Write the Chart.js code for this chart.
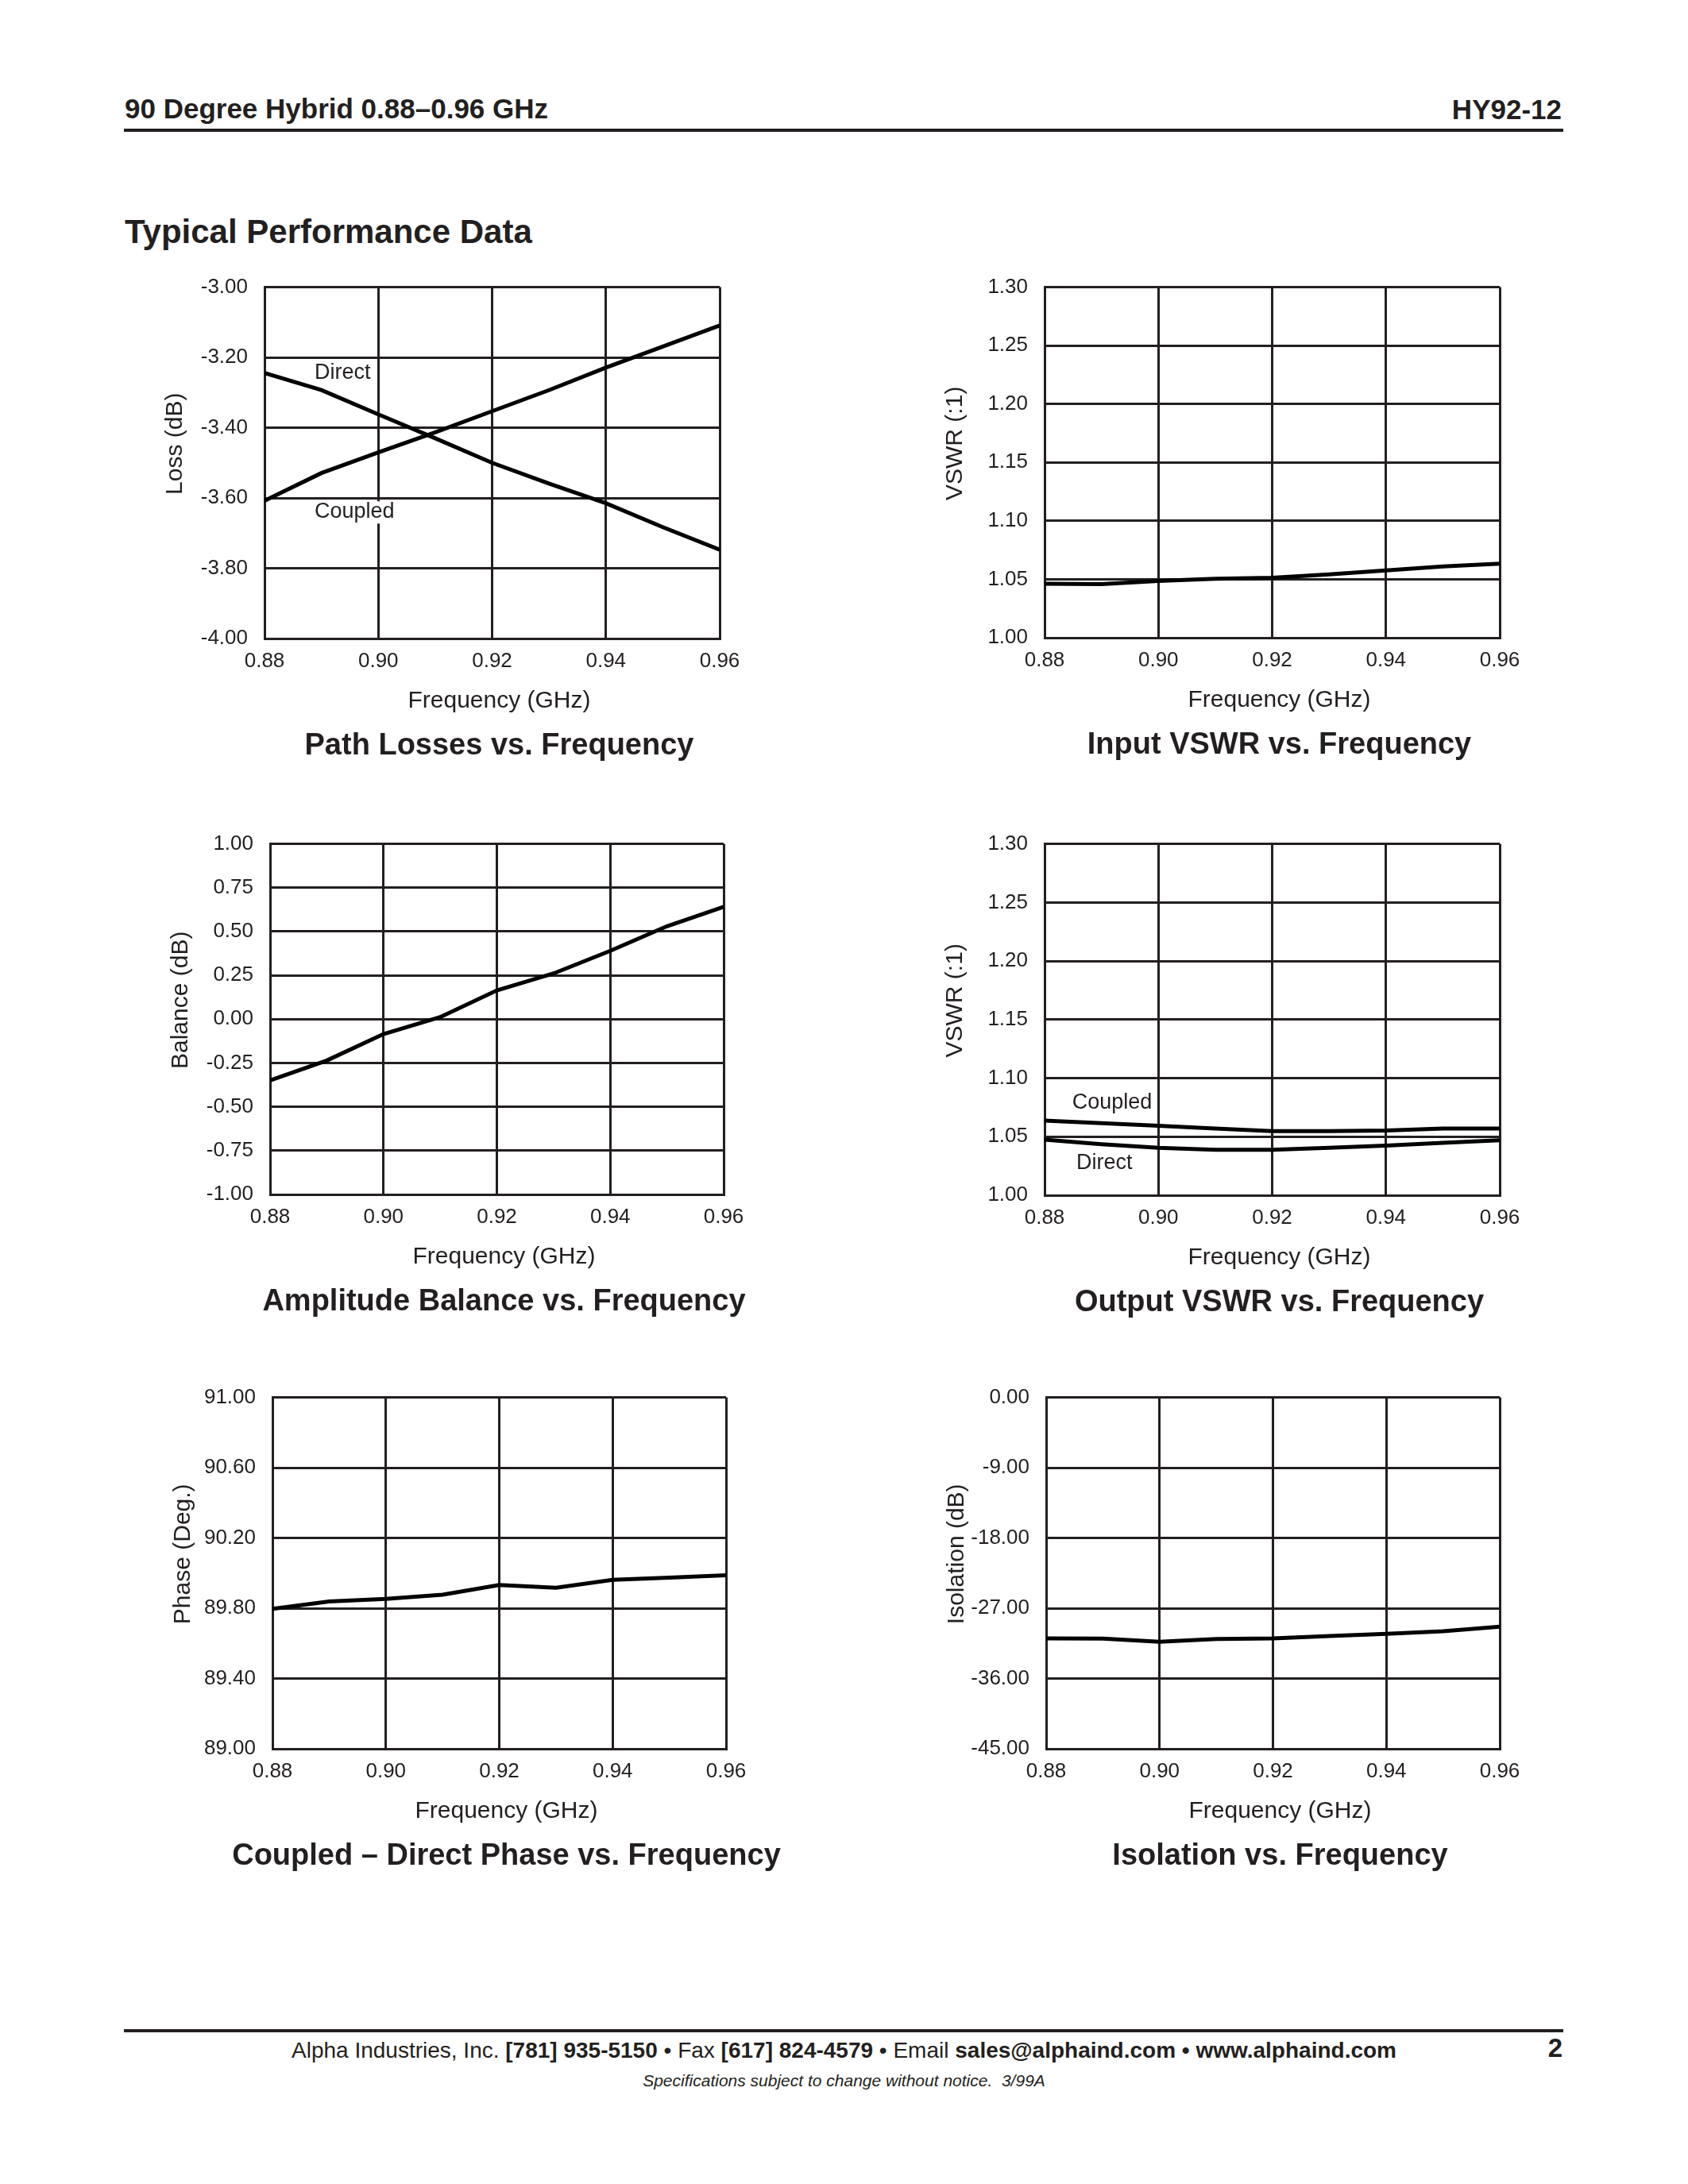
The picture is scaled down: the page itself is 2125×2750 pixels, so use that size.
<!DOCTYPE html>
<html>
<head>
<meta charset="utf-8">
<title>HY92-12 Typical Performance Data</title>
<script src="https://cdn.jsdelivr.net/npm/chart.js@4.4.1/dist/chart.umd.min.js"></script>
<style>
  html, body { margin: 0; padding: 0; background: #fff; }
  #page { position: relative; width: 2125px; height: 2750px; background: #fff; overflow: hidden;
          font-family: "Liberation Sans", Arial, Helvetica, sans-serif; color: #231f20; }
  .txt { position: absolute; white-space: nowrap; line-height: 1; }
  .rule { position: absolute; left: 156px; width: 1812px; height: 4px; background: #231f20; }
  .box { position: absolute; }
  b { font-weight: bold; }
</style>
</head>
<body>
<div id="page">
  <div class="txt" style="left:157px; top:119px; font-size:35px; font-weight:bold;">90 Degree Hybrid 0.88–0.96 GHz</div>
  <div class="txt" style="right:159px; top:120px; font-size:35px; font-weight:bold;">HY92-12</div>
  <div class="rule" style="top:162px;"></div>
  <div class="txt" style="left:157px; top:271px; font-size:42px; font-weight:bold;">Typical Performance Data</div>

  <div class="box" id="b1"><canvas id="c1"></canvas></div>
  <div class="box" id="b2"><canvas id="c2"></canvas></div>
  <div class="box" id="b3"><canvas id="c3"></canvas></div>
  <div class="box" id="b4"><canvas id="c4"></canvas></div>
  <div class="box" id="b5"><canvas id="c5"></canvas></div>
  <div class="box" id="b6"><canvas id="c6"></canvas></div>

  <div class="rule" style="top:2555px;"></div>
  <div class="txt" style="left:0; width:2125px; text-align:center; top:2568px; font-size:28px;">Alpha Industries, Inc. <b>[781] 935-5150</b> • Fax <b>[617] 824-4579</b> • Email <b>sales@alphaind.com • www.alphaind.com</b></div>
  <div class="txt" style="right:158px; top:2562px; font-size:33px; font-weight:bold;">2</div>
  <div class="txt" style="left:0; width:2125px; text-align:center; top:2609px; font-size:21px; font-style:italic;">Specifications subject to change without notice.&nbsp; 3/99A</div>
</div>

<script>
// frequency points (GHz) and axis ticks
const freqGHz = [0.88, 0.89, 0.90, 0.91, 0.92, 0.93, 0.94, 0.95, 0.96];
const freqTicks = [0.88, 0.90, 0.92, 0.94, 0.96];

// path losses (dB)
const lossDirect  = [-3.244, -3.293, -3.362, -3.430, -3.500, -3.559, -3.615, -3.683, -3.747];
const lossCoupled = [-3.608, -3.529, -3.470, -3.413, -3.353, -3.293, -3.229, -3.169, -3.109];
const lossTicks = [-4.00, -3.80, -3.60, -3.40, -3.20, -3.00];

// input VSWR
const inputVswr = [1.0463, 1.0459, 1.0486, 1.0504, 1.0513, 1.0542, 1.0576, 1.0610, 1.0633];
const vswrTicks = [1.00, 1.05, 1.10, 1.15, 1.20, 1.25, 1.30];

// amplitude balance (dB)
const balance = [-0.349, -0.236, -0.085, 0.012, 0.164, 0.261, 0.390, 0.530, 0.641];
const balanceTicks = [-1.00, -0.75, -0.50, -0.25, 0.00, 0.25, 0.50, 0.75, 1.00];

// output VSWR
const outVswrCoupled = [1.0638, 1.0616, 1.0593, 1.0570, 1.0548, 1.0548, 1.0552, 1.0570, 1.0570];
const outVswrDirect  = [1.0474, 1.0435, 1.0406, 1.0388, 1.0388, 1.0406, 1.0424, 1.0447, 1.0469];

// coupled - direct phase (deg)
const phaseDiff = [89.797, 89.839, 89.853, 89.877, 89.932, 89.917, 89.962, 89.974, 89.988];
const phaseTicks = [89.00, 89.40, 89.80, 90.20, 90.60, 91.00];

// isolation (dB)
const isolation = [-30.85, -30.89, -31.29, -30.95, -30.85, -30.55, -30.28, -29.94, -29.36];
const isolationTicks = [-45.00, -36.00, -27.00, -18.00, -9.00, 0.00];

const INK = '#231f20';
const FONT = '"Liberation Sans", Arial, Helvetica, sans-serif';
const YW = 160, PT = 30, PR = 110, XH = 160;

// titles and in-plot labels, drawn relative to the chart area
const plotText = {
  id: 'plotText',
  beforeDatasetsDraw(chart, args, o) {
    const ctx = chart.ctx, x = chart.scales.x, y = chart.scales.y;
    (o.notes || []).forEach(function (n) {
      ctx.save();
      ctx.font = '27px ' + FONT;
      const px = x.getPixelForValue(n.x), py = y.getPixelForValue(n.y);
      const w = ctx.measureText(n.text).width;
      ctx.fillStyle = '#fff';
      ctx.fillRect(px - 3, py - 21, w + 6, 28);
      ctx.fillStyle = INK;
      ctx.textAlign = 'left';
      ctx.textBaseline = 'alphabetic';
      ctx.fillText(n.text, px, py);
      ctx.restore();
    });
  },
  afterDraw(chart, args, o) {
    const ctx = chart.ctx, a = chart.chartArea;
    const cx = (a.left + a.right) / 2 + 9;
    ctx.save();
    ctx.fillStyle = INK;
    ctx.textAlign = 'center';
    ctx.textBaseline = 'alphabetic';
    ctx.font = '30px ' + FONT;
    ctx.fillText(o.xTitle, cx, a.bottom + 87);
    ctx.font = 'bold 38px ' + FONT;
    ctx.fillText(o.title, cx, a.bottom + 146);
    ctx.translate(a.left - 104, (a.top + a.bottom) / 2 - 24);
    ctx.rotate(-Math.PI / 2);
    ctx.font = '30px ' + FONT;
    ctx.fillText(o.yTitle, 0, 0);
    ctx.restore();
  }
};

function makeChart(n, rect, series, yTicks, text) {
  const box = document.getElementById('b' + n);
  box.style.left = (rect.l - YW) + 'px';
  box.style.top = (rect.t - PT) + 'px';
  box.style.width = (rect.r - rect.l + YW + PR) + 'px';
  box.style.height = (rect.b - rect.t + PT + XH) + 'px';

  const datasets = series.map(function (s) {
    return {
      data: freqGHz.map(function (f, i) { return {x: f, y: s[i]}; }),
      borderColor: '#000', borderWidth: 5, pointRadius: 0, tension: 0, fill: false
    };
  });

  return new Chart(document.getElementById('c' + n), {
    type: 'line',
    data: {datasets: datasets},
    plugins: [plotText],
    options: {
      responsive: true, maintainAspectRatio: false, animation: false, devicePixelRatio: 1,
      layout: {padding: {left: 0, top: PT, right: PR, bottom: 0}},
      scales: {
        x: {
          type: 'linear', min: freqTicks[0], max: freqTicks[freqTicks.length - 1],
          afterBuildTicks: function (s) { s.ticks = freqTicks.map(function (v) { return {value: v}; }); },
          afterFit: function (s) { s.height = XH; },
          grid: {color: INK, lineWidth: 3, drawTicks: false},
          border: {display: true, color: INK, width: 3},
          ticks: {color: INK, padding: 13, font: {family: FONT, size: 26},
                  callback: function (v) { return v.toFixed(2); }}
        },
        y: {
          type: 'linear', min: yTicks[0], max: yTicks[yTicks.length - 1],
          afterBuildTicks: function (s) { s.ticks = yTicks.map(function (v) { return {value: v}; }); },
          afterFit: function (s) { s.width = YW; },
          grid: {color: INK, lineWidth: 3, drawTicks: false},
          border: {display: true, color: INK, width: 3},
          ticks: {color: INK, padding: 21, font: {family: FONT, size: 26},
                  callback: function (v) { return v.toFixed(2); }}
        }
      },
      plugins: {
        legend: {display: false},
        tooltip: {enabled: false},
        plotText: text
      }
    }
  });
}

makeChart(1, {l: 333, t: 355, r: 906, b: 804}, [lossDirect, lossCoupled], lossTicks, {
  yTitle: 'Loss (dB)', xTitle: 'Frequency (GHz)', title: 'Path Losses vs. Frequency',
  notes: [{text: 'Direct', x: 0.8888, y: -3.2606}, {text: 'Coupled', x: 0.8888, y: -3.657}]
});
makeChart(2, {l: 1315, t: 355, r: 1888, b: 803}, [inputVswr], vswrTicks, {
  yTitle: 'VSWR (:1)', xTitle: 'Frequency (GHz)', title: 'Input VSWR vs. Frequency'
});
makeChart(3, {l: 340, t: 1056, r: 911, b: 1504}, [balance], balanceTicks, {
  yTitle: 'Balance (dB)', xTitle: 'Frequency (GHz)', title: 'Amplitude Balance vs. Frequency'
});
makeChart(4, {l: 1315, t: 1056, r: 1888, b: 1505}, [outVswrCoupled, outVswrDirect], vswrTicks, {
  yTitle: 'VSWR (:1)', xTitle: 'Frequency (GHz)', title: 'Output VSWR vs. Frequency',
  notes: [{text: 'Coupled', x: 0.88485, y: 1.0738}, {text: 'Direct', x: 0.88559, y: 1.0226}]
});
makeChart(5, {l: 343, t: 1753, r: 914, b: 2202}, [phaseDiff], phaseTicks, {
  yTitle: 'Phase (Deg.)', xTitle: 'Frequency (GHz)', title: 'Coupled – Direct Phase vs. Frequency'
});
makeChart(6, {l: 1317, t: 1753, r: 1888, b: 2202}, [isolation], isolationTicks, {
  yTitle: 'Isolation (dB)', xTitle: 'Frequency (GHz)', title: 'Isolation vs. Frequency'
});
</script>
</body>
</html>
